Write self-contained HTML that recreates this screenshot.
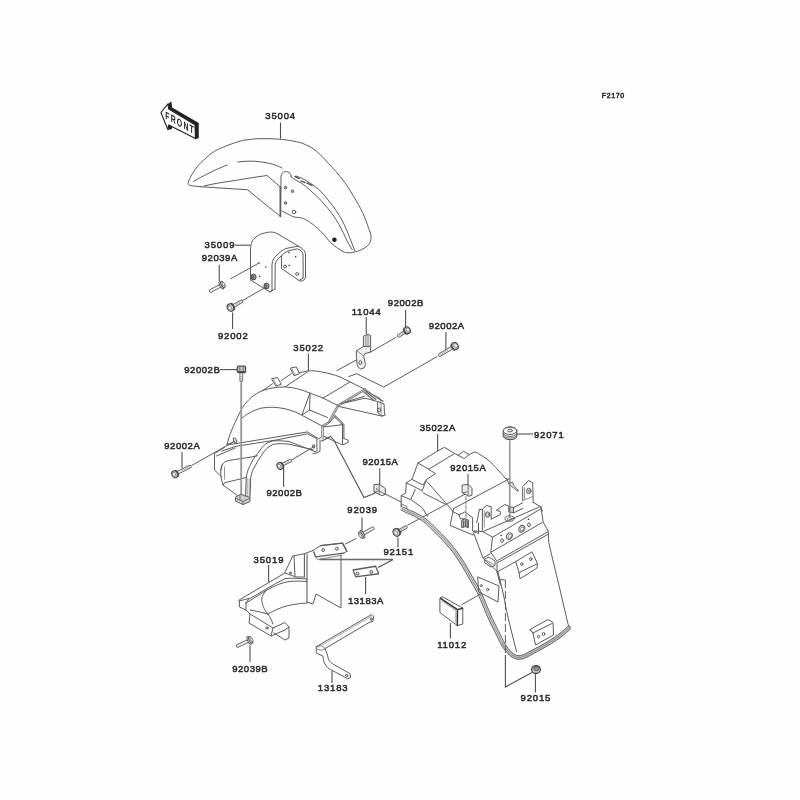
<!DOCTYPE html>
<html><head><meta charset="utf-8"><title>F2170</title>
<style>
html,body{margin:0;padding:0;background:#fefefe;}
body{width:800px;height:800px;overflow:hidden;font-family:"Liberation Sans",sans-serif;}
svg{display:block;filter:blur(0.5px);}
.ln{fill:none;stroke:#5c5c5c;stroke-width:1;stroke-linecap:round;stroke-linejoin:round;}
.lw{fill:#fefefe;stroke:#5c5c5c;stroke-width:1;stroke-linecap:round;stroke-linejoin:round;}
.lt{fill:none;stroke:#777;stroke-width:0.8;stroke-linecap:round;stroke-linejoin:round;}
.ld{fill:none;stroke:#505050;stroke-width:1.1;stroke-linecap:butt;}
.lb{font-family:"Liberation Sans",sans-serif;fill:#2a2a2a;stroke:#2a2a2a;stroke-width:0.5;}
.bk{fill:#222;stroke:none;}
</style></head><body>
<svg width="800" height="800" viewBox="0 0 800 800">
<rect width="800" height="800" fill="#fefefe"/>
<text x="613.25" y="97.82" font-size="7" letter-spacing="0.6" text-anchor="middle" class="lb">F2170</text>
<text x="280.62" y="118.72" font-size="9.5" letter-spacing="0.85" text-anchor="middle" class="lb">35004</text>
<text x="219.93" y="248.32" font-size="9.5" letter-spacing="0.85" text-anchor="middle" class="lb">35009</text>
<text x="219.78" y="260.82" font-size="9.5" letter-spacing="0.55" text-anchor="middle" class="lb">92039A</text>
<text x="233.32" y="338.82" font-size="9.5" letter-spacing="0.85" text-anchor="middle" class="lb">92002</text>
<text x="366.62" y="314.52" font-size="9.5" letter-spacing="0.85" text-anchor="middle" class="lb">11044</text>
<text x="405.87" y="306.22" font-size="9.5" letter-spacing="0.55" text-anchor="middle" class="lb">92002B</text>
<text x="446.67" y="328.62" font-size="9.5" letter-spacing="0.55" text-anchor="middle" class="lb">92002A</text>
<text x="308.62" y="351.02" font-size="9.5" letter-spacing="0.85" text-anchor="middle" class="lb">35022</text>
<text x="202.28" y="373.12" font-size="9.5" letter-spacing="0.55" text-anchor="middle" class="lb">92002B</text>
<text x="182.28" y="448.72" font-size="9.5" letter-spacing="0.55" text-anchor="middle" class="lb">92002A</text>
<text x="284.47" y="496.12" font-size="9.5" letter-spacing="0.55" text-anchor="middle" class="lb">92002B</text>
<text x="380.47" y="464.62" font-size="9.5" letter-spacing="0.55" text-anchor="middle" class="lb">92015A</text>
<text x="437.77" y="430.72" font-size="9.5" letter-spacing="0.55" text-anchor="middle" class="lb">35022A</text>
<text x="549.23" y="437.52" font-size="9.5" letter-spacing="0.85" text-anchor="middle" class="lb">92071</text>
<text x="468.27" y="470.72" font-size="9.5" letter-spacing="0.55" text-anchor="middle" class="lb">92015A</text>
<text x="362.62" y="513.12" font-size="9.5" letter-spacing="0.85" text-anchor="middle" class="lb">92039</text>
<text x="398.82" y="555.12" font-size="9.5" letter-spacing="0.85" text-anchor="middle" class="lb">92151</text>
<text x="268.93" y="562.72" font-size="9.5" letter-spacing="0.85" text-anchor="middle" class="lb">35019</text>
<text x="365.97" y="603.52" font-size="9.5" letter-spacing="0.55" text-anchor="middle" class="lb">13183A</text>
<text x="250.17" y="671.52" font-size="9.5" letter-spacing="0.55" text-anchor="middle" class="lb">92039B</text>
<text x="333.12" y="691.12" font-size="9.5" letter-spacing="0.85" text-anchor="middle" class="lb">13183</text>
<text x="452.12" y="648.12" font-size="9.5" letter-spacing="0.85" text-anchor="middle" class="lb">11012</text>
<text x="535.92" y="700.92" font-size="9.5" letter-spacing="0.85" text-anchor="middle" class="lb">92015</text>
<path class="bk" d="M168,103.9 L171.4,101.25 L172.1,107.6 L198.75,123 L198.75,138 L195,139.5 L195,124.9 L168.75,109.1 Z" />
<path class="bk" d="M168,124.9 L172.5,126 L171.75,129 L168.4,130.1 Z" />
<path class="lw" d="M160.9,112.5 L168,103.9 L168.75,109.1 L195,124.9 L195.4,138.6 L168.75,124.9 L168,129.75 Z" style="stroke:#222;stroke-width:1.1"/>
<text transform="translate(165.2,118.7) skewY(28) scale(0.64,1)" font-size="10.8" font-weight="bold" letter-spacing="1.9" fill="#1c1c1c" font-family="Liberation Sans, sans-serif">FRONT</text>
<path class="ld" d="M280.5,122.5 L280.5,138.75"/>
<path class="ln" d="M201,186.75 L192,185.8 C188.5,185.4 187.6,183.8 188.25,182.25 C190,177 196,166.5 203.75,160 C212,152 218,149 222.5,147.5 C232,143.5 238,141.5 245,140 C255,138.5 262,138.5 270,138.75 C282,139 291,140.5 300,142.5 C305,144 308,146 311.9,147.8 C318,152 323,157 328.75,163.75 C334,169 338,174 341.9,178.75 C346,184 350,190 353.1,195.6 C357,202 360,207 362.5,212.5 C365,218 367,223 369,229.4 C370.5,233 371.3,235 371,238 C371,242 369,245.5 364.4,248.1 C361,250 358,251.3 355,251.9 C352,252.7 349.5,253 347.5,252.8 C345,252.5 343.5,252 341.9,250.9" />
<path class="ln" d="M341.9,250.9 C338,248.5 335,246.5 332.5,244.4 C329.5,241.5 327,238.5 325,235.9 C321.5,232 318.5,229 315.6,226.6 C312,223.5 309,221.5 306.25,220 C304,218.8 302.5,218 300.6,217.75 C298.5,217.3 296.8,217.3 295,217.2 C293,216.8 291.8,216.2 290.3,215.3 L281.9,211" />
<path class="ln" d="M280.6,216.6 L281,177 C281,173.5 283,171.7 285.6,171.6 C288.5,171.6 290.2,172.8 291,175 L291.25,176.9" />
<path class="ln" d="M291.25,176.9 C294,179 296,180.2 298.75,181.6 C304,184.5 308,188 311.9,191.9 C317,196 321,200.3 325,205 C329.5,210 333,215 336.25,220 C340,226 343,232 345.6,237.8 C348,243 350,246.5 352.2,249.5" />
<path class="ln" d="M296,176 C300,177.5 303,179 306.25,180.6 C311,183.5 315.5,186.7 319.4,190 C323.5,194 327,198.5 330.6,203 C335,208.5 338.5,214 341.9,220 C345,226 347.5,231.5 349.4,236.9 C351.3,242 353,246 354.8,250.5" />
<circle cx="285.5" cy="187.6" r="1.3" fill="#aaa" stroke="#555" stroke-width="0.9"/>
<circle cx="292.5" cy="191.2" r="1.3" fill="#aaa" stroke="#555" stroke-width="0.9"/>
<circle cx="285.5" cy="203" r="1.3" fill="#aaa" stroke="#555" stroke-width="0.9"/>
<circle class="ln" cx="294" cy="212" r="1.8"/>
<circle class="bk" cx="334.4" cy="239.7" r="2.3"/>
<path class="ln" d="M295,176.5 L299,178.5 M301,181 L305,182.5 M307,183 L312,185.5" style="stroke-width:1.3;stroke:#333"/>
<path class="ln" d="M204,186 C214,183.6 222,182.4 230,181.25 C243,179.2 255,177.2 267,175.5 L280.3,187" />
<path class="ln" d="M201,186.75 L247.5,189.75 L280.3,216.4" />
<path class="ln" d="M280.3,187 L280.3,216.4" style="stroke-width:1.6"/>
<path class="ln" d="M193.5,181.5 C203,176 214,170 227.25,165" />
<path class="ln" d="M237.75,162 C244,161.2 249,161 255,161.25 C260,161.6 265,162.4 270,163.5 C274.5,164.6 278,166 282,168" />
<path class="ld" d="M234.7,245.2 L250.5,245.2"/>
<path class="ln" d="M250.5,280 L250.5,250 C250.7,243 252.5,240 255,238 C257.5,235.5 260,234.3 263,233.5 C266,232.5 268.5,232 271,232 C273.5,232.2 275,232.6 277,233.5 L299,246.5" />
<path class="ln" d="M250.5,280 L270,292 L272,290.5 M270,292 L275,289" />
<path class="ln" d="M272,290.5 L272,264 C272.5,260 274.5,257 277,255 C279.5,252.5 282.5,250 286,248.5 L296,246.5 C298.5,246.2 300.5,247 302,248.5 C304,250 305.3,252 305.5,254 L305.5,277 C305.3,279.5 303,281.5 300,281 L299,280.5" />
<path class="ln" d="M275,289 L275.2,264.5 C275.8,261.5 277.5,259 280,257 C282.5,254.5 285,252.5 288,251 L296,249 C298,248.8 299.8,249.5 301,251 C302.3,252.2 303,253.5 303,255 L303.2,277 L303,278" />
<path class="ln" d="M281.5,256 L281.5,268.5 L299,280.5 L303,278" />
<circle class="ln" cx="285" cy="266.5" r="1.5"/>
<circle class="ln" cx="297.2" cy="274" r="1.5"/>
<circle class="bk" cx="259" cy="263" r="0.75"/>
<circle class="bk" cx="289" cy="252.5" r="0.75"/>
<circle class="bk" cx="295.7" cy="256.8" r="0.75"/>
<circle class="bk" cx="289.2" cy="265.5" r="0.75"/>
<circle class="bk" cx="259.6" cy="276.2" r="0.75"/>
<circle class="bk" cx="265.8" cy="267" r="0.7"/>
<ellipse cx="253.5" cy="277" rx="2.6" ry="2.9" fill="#b0b0b0" stroke="#444" stroke-width="1"/>
<ellipse cx="252.9" cy="277.3" rx="1.4" ry="1.7" fill="#777" stroke="#444" stroke-width="0.5"/>
<ellipse cx="266.5" cy="286" rx="2.6" ry="2.9" fill="#b0b0b0" stroke="#444" stroke-width="1"/>
<ellipse cx="265.9" cy="286.3" rx="1.4" ry="1.7" fill="#777" stroke="#444" stroke-width="0.5"/>
<path class="ln" d="M230.6,278.8 L259,263"/>
<path class="ln" d="M242.8,300.4 L264,288.25"/>
<path class="ld" d="M219.25,264.7 L219.25,281"/>
<path d="M221.16,285.46 L210.74,290.99" stroke="#5e5e5e" stroke-width="3.7" fill="none" stroke-linecap="round"/>
<path d="M221.16,285.46 L210.74,290.99" stroke="#f1f1f1" stroke-width="2.00" fill="none" stroke-linecap="round"/>
<g transform="translate(222.4,284.8) rotate(152.0)"><ellipse cx="1.3" cy="0" rx="1.4" ry="4.20" fill="#e9e9e9" stroke="#4a4a4a" stroke-width="0.9"/><ellipse cx="-0.5" cy="0" rx="1.6" ry="3.64" fill="#dcdcdc" stroke="#4a4a4a" stroke-width="0.9"/><ellipse cx="-1.3" cy="0" rx="1.1" ry="2.24" fill="#f4f4f4" stroke="#666" stroke-width="0.7"/></g>
<path class="ld" d="M232.6,312.6 L232.6,328.9"/>
<path d="M232.11,306.69 L241.27,301.54" stroke="#5e5e5e" stroke-width="3.7" fill="none" stroke-linecap="round"/>
<path d="M232.11,306.69 L241.27,301.54" stroke="#f1f1f1" stroke-width="2.00" fill="none" stroke-linecap="round"/>
<path d="M235.85,304.58 L241.27,301.54" stroke="#8a8a8a" stroke-width="2.50" fill="none" stroke-dasharray="0.6 1.3"/>
<g transform="translate(230.5,307.6) rotate(-29.4)"><ellipse cx="2.04" cy="0" rx="1.85" ry="3.52" fill="#8a8a8a" stroke="#444" stroke-width="0.9"/><ellipse cx="0" cy="0" rx="3.15" ry="3.89" fill="#c6c6c6" stroke="#444" stroke-width="1.1"/><ellipse cx="-0.81" cy="0" rx="1.67" ry="2.22" fill="#f0f0f0" stroke="#6a6a6a" stroke-width="0.6"/></g>
<path class="ld" d="M308.4,353.5 L308.4,370.8"/>
<path class="ln" d="M226.9,445 C228,440 229.5,436 231.25,431.25 C233,427 234.5,423.5 236.25,420 C238,416 240,412 242.5,407.5 C245,403.5 248,400.5 251.25,397.5 C255,394.5 258.5,392.3 262.5,390.6 C266,389.3 270,388.4 273.75,387.75 C277.5,387.2 281,386.9 285,386.9 C289,387.1 293.5,387.7 297.5,388.75 C302,390 306,391.5 310,393.1 L323.1,398.1 L338.1,405.6" />
<path class="ln" d="M262.5,390.6 L272.5,383.75 M281.25,380.5 L291.25,373.75 M299.4,372.7 L308.4,370.8" />
<path class="lw" d="M271.9,378.75 L277.5,377.5 L281.25,384.4 L276.25,386 Z" />
<path class="lw" d="M290.6,368.1 L296.25,366.9 L299.4,373.75 L294.4,375.6 Z" />
<path class="lt" d="M273.2,379.5 L276.8,385.3 M291.9,369 L295,374.8" />
<path class="ln" d="M285,386.9 L307.5,371.9" />
<path class="ln" d="M308.4,370.8 C313,370.6 317,371 321.25,371.9 C328,373 334,374.7 340,376.9 L350,381.9 L365,389.4" />
<path class="ln" d="M350,381.9 L323.1,398.1" />
<path class="ln" d="M241.25,418.75 C244,416.3 247,414.3 250,412.5 C254,410.5 257.5,409.2 261.25,408.1 C265,407.5 268.5,407.2 272.5,407.25 C277,407.4 281,407.9 285,408.75 C288.5,409.6 292,410.7 295,411.9 L301.9,415" />
<path class="ln" d="M310,393.1 L301.9,415 L309.6,410 M310,393.5 L309.6,410 L327.5,417.5 M301.9,415.3 L322.5,426.25" />
<path d="M338.1,405.6 L328.75,422.5 L322.5,426.25 L322.5,437.5" fill="none" stroke="#666" stroke-width="2.3" stroke-linecap="round" stroke-linejoin="round"/>
<path d="M338.1,405.6 L328.75,422.5 L322.5,426.25 L322.5,437.5" fill="none" stroke="#f0f0f0" stroke-width="0.80" stroke-linecap="round" stroke-linejoin="round"/>
<path d="M335,416.25 L342.5,423.75" fill="none" stroke="#666" stroke-width="2.3" stroke-linecap="round" stroke-linejoin="round"/>
<path d="M335,416.25 L342.5,423.75" fill="none" stroke="#f0f0f0" stroke-width="0.80" stroke-linecap="round" stroke-linejoin="round"/>
<path class="ln" d="M342.5,423.75 L342.5,445 L348.1,442.5 L348.1,440 L343.8,438.5 M343.9,424.5 L343.9,438.5" />
<path class="ln" d="M323,427 L341.8,424.8 M323.75,436.25 L341.25,444.4 M335,416.5 L329,422.8" />
<path d="M338.1,405.6 L365,389.4" fill="none" stroke="#666" stroke-width="2.3" stroke-linecap="round" stroke-linejoin="round"/>
<path d="M338.1,405.6 L365,389.4" fill="none" stroke="#f0f0f0" stroke-width="0.80" stroke-linecap="round" stroke-linejoin="round"/>
<path class="ln" d="M365,389.4 L377.5,398.1 L383.1,401.25 M366,391.5 L376,399.5 M364,392 L374,400.6" style="stroke-width:1.1"/>
<path class="ln" d="M378,401.5 L384,404 L384.5,414 L385.5,415 L382,415.8 L378,413 Z" />
<path class="lt" d="M374,395 L380,398 L381,401.5 M381,403 L381,413.5" style="stroke:#666"/>
<ellipse class="ln" cx="379.2" cy="410" rx="1.4" ry="2.0" transform="rotate(0 379.2 410)"/>
<path class="ln" d="M338.6,406.4 L382.5,416.25 M341,403.75 L365,398.1 L376.5,401.25 M345,402.2 L364.5,396.2" />
<path class="ld" d="M321.25,441.25 L330.6,436.5 L333.75,440 L364,497.5 L375.25,493" />
<path class="ln" d="M226.9,445 L238.75,443.1 L307.5,431.9 L318.75,438.75 L320.6,437.5" />
<path class="ln" d="M222,451 L236.25,446.25 L276.25,440 L307.5,433.75 L316.9,438.75 L316.9,451.25" />
<path class="ln" d="M320,440 L320,451.25 L316.5,453 L313,453.5" />
<ellipse class="ln" cx="313.6" cy="446.3" rx="1.2" ry="1.6" transform="rotate(20 313.6 446.3)"/>
<path class="ln" d="M245.5,497 L246.25,477.5 C247,472 248.3,469 250,465.5 C252,461 254.5,457 257.5,453.5 C260,450 262.5,447 265,444.5 C268,442 271.5,441 275.5,440.75 C280,440.6 284.5,441 289,441.5 L316,452" />
<path class="ln" d="M250,497 L250.75,477.5 C251.5,473 252.8,470 254.5,467 C256.5,463 258.8,459.3 261.25,455.75 C263.3,452.5 265.5,449.6 268,447.5 C270.8,445.2 273.8,444 277,443.75 C281,443.5 285,443.8 289,444.2 L313,449.75" />
<path class="ln" d="M224.5,447.5 L214.5,453.5 L214.5,470 L221.5,476.75" />
<path class="ln" d="M235,448 L216.5,456" />
<path class="ln" d="M222.25,464.75 C221,468 220.6,471 220.75,474.5 C221,478.5 222,482 223,485 L237.25,495.5" />
<path class="ln" d="M221,470 C221.2,466.5 221.8,464.5 223.5,463 C225,461.5 227,460.8 229,460.4 L250,457.25 L257.5,455.75" />
<path class="ln" d="M223,485 L224.5,482.8 L246.25,477.5" />
<path class="lt" d="M224.5,467 L224.5,479" />
<ellipse class="ln" cx="235" cy="440.5" rx="1.4" ry="2.5" transform="rotate(-25 235 440.5)"/>
<path class="lt" d="M227.2,444.2 L233,442.2" style="stroke:#666"/>
<path class="lt" d="M241.2,383 L241.2,496" style="stroke:#9a9a9a;stroke-width:1.9"/>
<path class="ln" d="M235.75,497 L240.5,494.3 L250,497.5 L250,501.5 L243,504.6 L236,501.3 Z" style="fill:#cfcfcf"/>
<path class="lt" d="M236.5,498.6 L243,501.4 L249.5,498.6 M240,495.5 L240,500 M243,501.4 L243,504.4" style="stroke:#555"/>
<path class="lt" d="M247.2,479 L247.2,496 M249.2,479 L249.2,496" stroke-dasharray="1 1"/>
<path class="ld" d="M220,369.6 L237,369.6"/>
<path d="M241.30,371.75 L241.30,380.20" stroke="#5e5e5e" stroke-width="3.7" fill="none" stroke-linecap="round"/>
<path d="M241.30,371.75 L241.30,380.20" stroke="#f1f1f1" stroke-width="2.00" fill="none" stroke-linecap="round"/>
<path d="M241.30,376.00 L241.30,380.20" stroke="#8a8a8a" stroke-width="2.50" fill="none" stroke-dasharray="0.6 1.3"/>
<g transform="translate(241.3,371.5) rotate(90.0)"><ellipse cx="0.28" cy="0" rx="0.25" ry="0.47" fill="#8a8a8a" stroke="#444" stroke-width="0.9"/><ellipse cx="0" cy="0" rx="0.42" ry="0.53" fill="#c6c6c6" stroke="#444" stroke-width="1.1"/><ellipse cx="-0.11" cy="0" rx="0.23" ry="0.30" fill="#f0f0f0" stroke="#6a6a6a" stroke-width="0.6"/></g>
<path class="ln" d="M237.2,367.4 Q237.2,366 238.6,366 L244,366 Q245.6,366 245.6,367.4 L245.6,371.8 L237.2,371.8 Z" style="fill:#c4c4c4;stroke:#3c3c3c;stroke-width:1.1"/>
<path class="lt" d="M239.8,366.5 L239.8,371.5 M243.2,366.5 L243.2,371.5" style="stroke:#555"/>
<path class="ln" d="M238,372.6 L245,372.6" style="stroke:#444;stroke-width:1.4"/>
<path class="ld" d="M182,452 L182,468"/>
<path d="M176.32,473.43 L189.84,466.58" stroke="#5e5e5e" stroke-width="3.7" fill="none" stroke-linecap="round"/>
<path d="M176.32,473.43 L189.84,466.58" stroke="#f1f1f1" stroke-width="2.00" fill="none" stroke-linecap="round"/>
<path d="M182.09,470.51 L189.84,466.58" stroke="#8a8a8a" stroke-width="2.50" fill="none" stroke-dasharray="0.6 1.3"/>
<g transform="translate(174.8,474.2) rotate(-26.8)"><ellipse cx="1.87" cy="0" rx="1.70" ry="3.23" fill="#8a8a8a" stroke="#444" stroke-width="0.9"/><ellipse cx="0" cy="0" rx="2.89" ry="3.57" fill="#c6c6c6" stroke="#444" stroke-width="1.1"/><ellipse cx="-0.75" cy="0" rx="1.53" ry="2.04" fill="#f0f0f0" stroke="#6a6a6a" stroke-width="0.6"/></g>
<path class="ln" d="M192,465.3 L235,441"/>
<path class="ld" d="M283.6,468 L283.6,487"/>
<path d="M281.51,465.21 L290.35,460.60" stroke="#5e5e5e" stroke-width="3.7" fill="none" stroke-linecap="round"/>
<path d="M281.51,465.21 L290.35,460.60" stroke="#f1f1f1" stroke-width="2.00" fill="none" stroke-linecap="round"/>
<path d="M285.18,463.30 L290.35,460.60" stroke="#8a8a8a" stroke-width="2.50" fill="none" stroke-dasharray="0.6 1.3"/>
<g transform="translate(280,466) rotate(-27.6)"><ellipse cx="1.87" cy="0" rx="1.70" ry="3.23" fill="#8a8a8a" stroke="#444" stroke-width="0.9"/><ellipse cx="0" cy="0" rx="2.89" ry="3.57" fill="#c6c6c6" stroke="#444" stroke-width="1.1"/><ellipse cx="-0.75" cy="0" rx="1.53" ry="2.04" fill="#f0f0f0" stroke="#6a6a6a" stroke-width="0.6"/></g>
<path class="ln" d="M292.5,459.5 L314,446.6"/>
<path class="ld" d="M366.25,317.1 L366.25,334.6"/>
<path class="ld" d="M405.6,310.1 L405.6,327.6"/>
<path class="ld" d="M445.9,332 L445.9,350.4"/>
<path d="M405.87,331.22 L398.84,335.70" stroke="#5e5e5e" stroke-width="3.7" fill="none" stroke-linecap="round"/>
<path d="M405.87,331.22 L398.84,335.70" stroke="#f1f1f1" stroke-width="2.00" fill="none" stroke-linecap="round"/>
<path d="M403.00,333.05 L398.84,335.70" stroke="#8a8a8a" stroke-width="2.50" fill="none" stroke-dasharray="0.6 1.3"/>
<g transform="translate(407.3,330.3) rotate(147.4)"><ellipse cx="1.87" cy="0" rx="1.70" ry="3.23" fill="#8a8a8a" stroke="#444" stroke-width="0.9"/><ellipse cx="0" cy="0" rx="2.89" ry="3.57" fill="#c6c6c6" stroke="#444" stroke-width="1.1"/><ellipse cx="-0.75" cy="0" rx="1.53" ry="2.04" fill="#f0f0f0" stroke="#6a6a6a" stroke-width="0.6"/></g>
<path class="ln" d="M396,337.4 L369.5,352.6"/>
<path d="M453.45,346.92 L440.01,354.94" stroke="#5e5e5e" stroke-width="3.7" fill="none" stroke-linecap="round"/>
<path d="M453.45,346.92 L440.01,354.94" stroke="#f1f1f1" stroke-width="2.00" fill="none" stroke-linecap="round"/>
<path d="M447.75,350.32 L440.01,354.94" stroke="#8a8a8a" stroke-width="2.50" fill="none" stroke-dasharray="0.6 1.3"/>
<g transform="translate(455,346) rotate(149.2)"><ellipse cx="1.98" cy="0" rx="1.80" ry="3.42" fill="#8a8a8a" stroke="#444" stroke-width="0.9"/><ellipse cx="0" cy="0" rx="3.06" ry="3.78" fill="#c6c6c6" stroke="#444" stroke-width="1.1"/><ellipse cx="-0.79" cy="0" rx="1.62" ry="2.16" fill="#f0f0f0" stroke="#6a6a6a" stroke-width="0.6"/></g>
<path class="ln" d="M437.1,356.6 L383.75,387.1 L356.6,373.7 L348.75,376.6" />
<path class="ln" d="M337,370.6 L356,360.2"/>
<path class="ln" d="M363.8,336 L368,334.4 L370.6,335.5 L370.6,346 L366.5,347.5 L363.8,346.2 Z" style="fill:#e4e4e4"/>
<path class="lt" d="M365.8,335.4 L365.8,346.8 M368,334.6 L368,346.6" />
<path class="ln" d="M356.8,350.5 L363.4,346.4 L370.6,346.4 L370.6,352 L365,353.6 L363.6,356 L365.5,364.5 L364,368 L360.5,369 L357.5,366.5 L356.4,358 Z" style="fill:#efefef"/>
<ellipse class="ln" cx="360.3" cy="362.6" rx="1.4" ry="2" transform="rotate(0 360.3 362.6)"/>
<path class="lt" d="M356.8,350.5 L363.6,356" />
<path class="ld" d="M437.6,434 L437.6,451"/>
<path class="ln" d="M418,463 L437.2,451.25 L444.5,447.3 L454.6,453.5 L458,455.2 L463.6,451.25 L469.25,454.6 L474.9,451.8 C480,454.3 484,457 488,460 C492,463.5 495,466.5 498,470 C501,473 503.5,476 506,479 L510,479" />
<path class="ln" d="M458,455.2 L464.2,458.6 L469.25,454.6" />
<path class="ln" d="M418,463 L428.75,469.25 L454.6,453.5" />
<path class="ln" d="M418,463 L411.9,479.4 L406.25,482.75 L405.7,492.9 L401.2,495.7 L401.2,507.5 L407.4,512" />
<path class="ln" d="M428.75,469.25 L435.5,473.75 L426.5,479.4 L422,491.2" />
<path class="ln" d="M411.9,479.4 L423.1,485 L426.5,479.4 M406.25,482.75 L421.6,490.4" />
<path class="ln" d="M415.25,489.5 L410.75,499.6" />
<path class="ln" d="M401.2,495.7 L410.75,499.6 L422,507.5 L427.6,516.5" />
<path class="lt" d="M401.75,504.1 L406.8,506.4 L406.8,510.3 L401.75,508 Z" style="stroke:#555"/>
<path class="ln" d="M427,481.6 L446.75,504.1 L453.5,512" />
<path class="ln" d="M423.1,492.9 L446,504.5" />
<path class="ln" d="M408,525 L464.75,494.3"/>
<path class="ln" d="M453.5,508.6 L508,479.5" />
<path class="ln" d="M385.4,494 L401,502" />
<path class="lt" d="M402.00,508.50 C403.00,509.00 405.83,510.50 408.00,511.50 C410.17,512.50 412.17,513.00 415.00,514.50 C417.83,516.00 421.67,517.92 425.00,520.50 C428.33,523.08 431.67,526.75 435.00,530.00 C438.33,533.25 441.67,536.33 445.00,540.00 C448.33,543.67 452.00,548.00 455.00,552.00 C458.00,556.00 460.33,559.67 463.00,564.00 C465.67,568.33 468.33,573.33 471.00,578.00 C473.67,582.67 476.67,587.33 479.00,592.00 C481.33,596.67 483.00,601.33 485.00,606.00 C487.00,610.67 489.00,615.67 491.00,620.00 C493.00,624.33 495.00,628.00 497.00,632.00 C499.00,636.00 501.17,640.83 503.00,644.00 C504.83,647.17 506.33,649.07 508.00,651.00 C509.67,652.93 511.17,654.52 513.00,655.60 C514.83,656.68 517.00,657.43 519.00,657.50 C521.00,657.57 522.75,656.92 525.00,656.00 C527.25,655.08 529.83,653.42 532.50,652.00 C535.17,650.58 538.00,649.17 541.00,647.50 C544.00,645.83 547.33,644.00 550.50,642.00 C553.67,640.00 556.82,637.93 560.00,635.50 C563.18,633.07 568.00,628.75 569.60,627.40" style="stroke:#dcdcdc;stroke-width:3.4"/>
<path class="lt" d="M503.00,644.00 C503.83,645.17 506.33,649.07 508.00,651.00 C509.67,652.93 511.17,654.52 513.00,655.60 C514.83,656.68 517.00,657.43 519.00,657.50 C521.00,657.57 522.75,656.92 525.00,656.00 C527.25,655.08 529.83,653.42 532.50,652.00 C535.17,650.58 538.00,649.17 541.00,647.50 C544.00,645.83 547.33,644.00 550.50,642.00 C553.67,640.00 556.82,637.93 560.00,635.50 C563.18,633.07 568.00,628.75 569.60,627.40" style="stroke:#c4c4c4;stroke-width:3.2"/>
<path class="ln" d="M402.80,506.89 C403.80,507.39 406.58,508.86 408.75,509.87 C410.93,510.87 412.95,511.37 415.84,512.91 C418.73,514.44 422.70,516.44 426.10,519.08 C429.51,521.71 432.89,525.43 436.26,528.71 C439.63,532.00 442.97,535.09 446.33,538.79 C449.70,542.49 453.41,546.88 456.44,550.92 C459.47,554.96 461.85,558.69 464.53,563.06 C467.22,567.42 469.88,572.42 472.56,577.11 C475.24,581.80 478.26,586.50 480.61,591.20 C482.96,595.89 484.65,600.62 486.65,605.29 C488.66,609.97 490.64,614.93 492.63,619.25 C494.63,623.56 496.62,627.22 498.61,631.20 C500.60,635.17 502.77,639.99 504.56,643.10 C506.35,646.20 507.80,648.00 509.36,649.82 C510.92,651.65 512.30,653.07 513.92,654.05 C515.53,655.03 517.33,655.65 519.06,655.70 C520.79,655.75 522.22,655.21 524.32,654.33 C526.42,653.45 529.02,651.81 531.66,650.41 C534.29,649.01 537.15,647.58 540.13,645.93 C543.11,644.27 546.41,642.45 549.54,640.48 C552.67,638.50 555.76,636.48 558.91,634.07 C562.06,631.66 566.85,627.37 568.44,626.02" />
<path class="lt" d="M402.00,508.50 C403.00,509.00 405.83,510.50 408.00,511.50 C410.17,512.50 412.17,513.00 415.00,514.50 C417.83,516.00 421.67,517.92 425.00,520.50 C428.33,523.08 431.67,526.75 435.00,530.00 C438.33,533.25 441.67,536.33 445.00,540.00 C448.33,543.67 452.00,548.00 455.00,552.00 C458.00,556.00 460.33,559.67 463.00,564.00 C465.67,568.33 468.33,573.33 471.00,578.00 C473.67,582.67 476.67,587.33 479.00,592.00 C481.33,596.67 483.00,601.33 485.00,606.00 C487.00,610.67 489.00,615.67 491.00,620.00 C493.00,624.33 495.00,628.00 497.00,632.00 C499.00,636.00 501.17,640.83 503.00,644.00 C504.83,647.17 506.33,649.07 508.00,651.00 C509.67,652.93 511.17,654.52 513.00,655.60 C514.83,656.68 517.00,657.43 519.00,657.50 C521.00,657.57 522.75,656.92 525.00,656.00 C527.25,655.08 529.83,653.42 532.50,652.00 C535.17,650.58 538.00,649.17 541.00,647.50 C544.00,645.83 547.33,644.00 550.50,642.00 C553.67,640.00 556.82,637.93 560.00,635.50 C563.18,633.07 568.00,628.75 569.60,627.40" style="stroke:#777"/>
<path class="ln" d="M401.20,510.11 C402.20,510.61 405.09,512.14 407.25,513.13 C409.41,514.13 411.38,514.63 414.16,516.09 C416.93,517.56 420.63,519.39 423.90,521.92 C427.16,524.46 430.45,528.07 433.74,531.29 C437.04,534.50 440.37,537.58 443.67,541.21 C446.97,544.84 450.59,549.12 453.56,553.08 C456.53,557.04 458.82,560.64 461.47,564.94 C464.11,569.25 466.78,574.25 469.44,578.89 C472.09,583.54 475.07,588.17 477.39,592.80 C479.71,597.44 481.35,602.05 483.35,606.71 C485.34,611.37 487.36,616.40 489.37,620.75 C491.37,625.10 493.38,628.78 495.39,632.80 C497.40,636.83 499.57,641.67 501.44,644.90 C503.32,648.13 504.86,650.13 506.64,652.18 C508.41,654.22 510.03,655.96 512.08,657.15 C514.13,658.34 516.67,659.21 518.94,659.30 C521.21,659.39 523.28,658.62 525.68,657.67 C528.08,656.72 530.65,655.02 533.34,653.59 C536.04,652.16 538.85,650.75 541.87,649.07 C544.89,647.40 548.26,645.55 551.46,643.52 C554.66,641.50 557.88,639.39 561.09,636.93 C564.31,634.47 569.15,630.13 570.76,628.78" />
<path class="ln" d="M474,534 C477,542 480,550 483,558 L490,554 M483,558 L498,572 C501,584 504,596 506,608 C509,622 513,638 516.75,652" />
<path class="ln" d="M453.5,508.6 L450.1,525.5 L473,535 L474.5,531" />
<path class="ln" d="M453.5,512 L459.1,514.8 L460.25,518.75 L464.5,518.75 M459.1,514.8 L464.75,512 L472.6,517.6 L472.6,531 L478.5,533.5 L478.5,523" />
<path class="ld" d="M468,474 L468,484.4"/>
<path class="ln" d="M462.5,485 L468.1,484.4 L472,488.4 L472,495.1 L468.5,496.4 L467,495.1 L462.5,492.9 Z" style="fill:#ececec"/>
<path class="lt" d="M468.1,484.6 L468.1,495.5 M462.5,492.9 L467,491.8" style="stroke:#555"/>
<path class="lt" d="M465.9,496.4 L465.9,518.75" style="stroke:#999;stroke-width:1.3" stroke-dasharray="3 1.5"/>
<path class="ln" d="M462,520 L465.5,518.75 L468.4,520 L468.4,527.75 L465.5,526.6 L462,527.6 Z" style="fill:#bbb"/>
<path class="lt" d="M463.6,521 L463.6,526.8 M465.6,520.4 L465.6,526.2 M467.2,520.8 L467.2,527" style="stroke:#444"/>
<path class="lw" d="M482.4,530.4 L482.4,509.4 L486.4,505.4 L491.2,506.7 L491.2,519" />
<path class="ln" d="M479.4,509.4 L482.4,509.4 M479.4,509.4 L476.75,522.5" />
<path class="lt" d="M484.3,510.5 L484.3,527" />
<ellipse class="ln" cx="487.7" cy="514.6" rx="2.2" ry="2.8" transform="rotate(0 487.7 514.6)"/>
<ellipse class="lt" cx="487.7" cy="514.6" rx="1.1" ry="1.6" transform="rotate(0 487.7 514.6)"/>
<path class="lw" d="M522.7,500.6 L522.7,486.6 L528.4,480.5 L532.7,482.7 L533.2,502.4" />
<path class="lt" d="M524.6,488 L524.6,499.5 M522.7,500.6 L533,496.4" />
<ellipse class="ln" cx="528.8" cy="491" rx="2.2" ry="2.8" transform="rotate(0 528.8 491)"/>
<path class="lt" d="M527.5,489.3 L530.1,492.7 M530.1,489.3 L527.5,492.7" style="stroke:#666"/>
<path class="ln" d="M491.2,519 L500.4,514.6 L500.4,511.6 L496.4,510.2 L504.7,504.6 L508.7,505.9 L508.7,512" />
<path class="ln" d="M510,506.7 L513.5,507.6 L513.5,512.9 L510,512 Z" style="fill:#d6d6d6"/>
<path class="ln" d="M513.5,507.6 L522.7,502.8 M513.5,512.9 L522.7,508.5 M533.2,502.4 L540.6,506.7 L542.4,511" />
<path class="ln" d="M508.7,483.1 L512.6,482.2 L513.5,485.3 L518.75,491 L516.6,490.6 L511.4,486.2 Z" style="fill:#e4e4e4;stroke-width:0.9"/>
<path class="ln" d="M506.5,478.75 L508.7,483.1" />
<path class="ld" d="M516,434 L533,434"/>
<path class="ln" d="M503.2,430.8 C503.2,425.6 516.8,425.6 516.8,430.8 L516.8,436 C516.8,441 503.2,441 503.2,436 Z" style="fill:#ececec;stroke:#444"/>
<ellipse class="lw" cx="510" cy="430.8" rx="6.8" ry="3.6" transform="rotate(0 510 430.8)"/>
<ellipse class="ln" cx="510" cy="430.6" rx="2.6" ry="1.3" transform="rotate(0 510 430.6)"/>
<path class="lt" d="M503.2,433.6 C505,437.4 515,437.4 516.8,433.6 M503.2,435.6 C505,439 515,439 516.8,435.6" style="stroke:#555"/>
<path class="lt" d="M509.8,441 L509.8,517" style="stroke:#858585;stroke-width:1.3"/>
<ellipse class="ln" cx="509.6" cy="518.6" rx="4.6" ry="2.7" transform="rotate(0 509.6 518.6)"/>
<ellipse class="lt" cx="509.6" cy="519" rx="2.6" ry="1.3" transform="rotate(0 509.6 519)"/>
<path class="ln" d="M474.5,531 L482.9,531.6 L540.9,506.25 L543.1,522 L548.2,531 L548.75,542.25 C552,557 555.5,571 558.9,585 C562,598 565,611 568,624 L569.6,627.4" />
<path class="ln" d="M482.9,531.6 L492.5,537.2 L541.4,508.5" />
<path class="ln" d="M492.5,537.2 L490.8,552.4 L497,561.4 L497,572 L500.4,585" />
<path class="ln" d="M490.8,552.4 L542,522.6" />
<path class="ln" d="M498,560.25 L547.6,532 M498,562.5 L547.9,534.4" />
<path class="ln" d="M497,572 L516,561.4" />
<ellipse class="ln" cx="509.4" cy="536.1" rx="2.7" ry="3.4" transform="rotate(30 509.4 536.1)"/>
<ellipse class="lt" cx="509.8" cy="536.3" rx="1.5" ry="2.2" transform="rotate(30 509.8 536.3)"/>
<ellipse class="ln" cx="521.75" cy="528.75" rx="2.7" ry="3.4" transform="rotate(30 521.75 528.75)"/>
<ellipse class="lt" cx="522.1" cy="529" rx="1.5" ry="2.2" transform="rotate(30 522.1 529)"/>
<ellipse class="ln" cx="502" cy="540.6" rx="1.5" ry="1.8" transform="rotate(0 502 540.6)"/>
<ellipse class="ln" cx="529" cy="524.8" rx="1.4" ry="1.9" transform="rotate(0 529 524.8)"/>
<circle class="bk" cx="501" cy="535.5" r="0.8"/>
<circle class="bk" cx="528.5" cy="519.2" r="0.8"/>
<path class="ln" d="M485,559 L489,557 L495,561 L495,565.5 L491,567 L485,563 Z" />
<path class="lt" d="M486.5,560.5 L493.5,564.5" />
<path class="lw" d="M516.1,561.4 L531.9,551.8 L537.5,563.6 L537,568 L520,578.8 L519,572.6 Z" />
<path class="ln" d="M519,572.6 L537.5,563.6" />
<ellipse class="ln" cx="521.75" cy="564.2" rx="1.1" ry="1.4" transform="rotate(0 521.75 564.2)"/>
<ellipse class="ln" cx="530.75" cy="559.1" rx="1.1" ry="1.5" transform="rotate(0 530.75 559.1)"/>
<path class="ln" d="M478,577 L499,586 L498,602 L479,592 Z" />
<circle class="ln" cx="481.3" cy="585.6" r="1.0"/>
<circle class="ln" cx="487.6" cy="589.6" r="1.2"/>
<path class="ln" d="M462,604.5 L480.5,594"/>
<path class="lw" d="M440.25,598 L442.5,596.8 L462.75,608 L462.75,624 L457.3,625.6 L440.25,612.75 Z" />
<path class="ln" d="M440.6,598.3 L457.5,609.6 L457.3,625.4 M457.5,609.6 L462.6,608.2" style="stroke-width:1.5;stroke:#333"/>
<path class="lt" d="M442,601 L456,610.5 L455.8,622.5" />
<path class="ld" d="M450.4,623 L450.4,638.6"/>
<path class="ld" d="M505.4,580 L505.4,653" stroke-dasharray="8 3" style="stroke:#606060;stroke-width:1"/>
<path class="ln" d="M499.5,579.5 L505,580" />
<path class="ld" d="M505.4,655 L505.4,687 L532,672.6" />
<path class="ld" d="M535.4,674 L535.4,692.6"/>
<ellipse cx="536" cy="669.5" rx="4.4" ry="3.9" fill="#c8c8c8" stroke="#333" stroke-width="1.1"/>
<ellipse cx="536.3" cy="668.6" rx="2.6" ry="2" fill="#999" stroke="#333" stroke-width="0.7"/>
<path class="lw" d="M530,629.5 L548,619.5 L553,622.5 L553.5,635 L535.5,645 L533,633 Z" />
<path class="ln" d="M533,633 L552,623.5 M530,629.5 L533,633" />
<ellipse class="ln" cx="538.5" cy="636.5" rx="1.1" ry="1.3" transform="rotate(0 538.5 636.5)"/>
<ellipse class="ln" cx="543.5" cy="634" rx="1.3" ry="1.6" transform="rotate(0 543.5 634)"/>
<path class="ld" d="M398,537.5 L398,547.5"/>
<path d="M398.06,531.58 L405.87,527.23" stroke="#5e5e5e" stroke-width="3.7" fill="none" stroke-linecap="round"/>
<path d="M398.06,531.58 L405.87,527.23" stroke="#f1f1f1" stroke-width="2.00" fill="none" stroke-linecap="round"/>
<path d="M401.17,529.85 L405.87,527.23" stroke="#8a8a8a" stroke-width="2.50" fill="none" stroke-dasharray="0.6 1.3"/>
<g transform="translate(396.4,532.5) rotate(-29.1)"><ellipse cx="2.09" cy="0" rx="1.90" ry="3.61" fill="#8a8a8a" stroke="#444" stroke-width="0.9"/><ellipse cx="0" cy="0" rx="3.23" ry="3.99" fill="#c6c6c6" stroke="#444" stroke-width="1.1"/><ellipse cx="-0.84" cy="0" rx="1.71" ry="2.28" fill="#f0f0f0" stroke="#6a6a6a" stroke-width="0.6"/></g>
<path class="ld" d="M379.75,468.25 L379.75,484.5"/>
<path class="ln" d="M374.3,484.6 L379.2,484.2 L385.3,488.4 L385.3,494.3 L381.8,495.7 L374.3,492 Z" style="fill:#e8e8e8"/>
<path class="lt" d="M379.2,484.4 L379.2,494 M374.3,492 L379.2,490.8 L385.3,494.3" style="stroke:#555"/>
<path class="ln" d="M376,487.6 L377.6,488.4 L377.6,490.6 L376,489.8 Z" style="fill:#888;stroke:none"/>
<path class="ld" d="M268.6,565 L268.6,583"/>
<path class="ln" d="M238.75,600.25 L284.5,573.25 L292.75,556 L304,553.75 L313,550.5 L320.6,545.6 L342.5,543.1 L346.9,551.25 L343.75,553.1" />
<path class="ln" d="M313.75,551.9 L315.6,556.9 L343.75,553.1 M320.6,545.6 L342.5,543.1 L346.9,551.25" style="stroke-width:1.4"/>
<path class="lt" d="M316,557.5 L317.5,559.5 L341,555.5" style="stroke:#666"/>
<circle cx="323.2" cy="550" r="1.5" fill="#ddd" stroke="#555" stroke-width="0.9"/>
<circle cx="336.9" cy="548.75" r="1.5" fill="#ddd" stroke="#555" stroke-width="0.9"/>
<path class="ln" d="M341,555 L341,608 L316,594 L313,604 L307,602" />
<path class="ln" d="M307,554 L307,602 M304.4,554.4 L304.4,577" style="stroke-width:1.1"/>
<path class="ln" d="M294,556 L295,576 M285,573 L296,577 L304.4,577" />
<circle class="ln" cx="290.4" cy="573" r="1.0"/>
<path class="ln" d="M239.4,601 L239.4,607 L246,610 L246,603 M239.4,601 L249,598.4 L246,603" />
<path class="ln" d="M249,599 C262,592 272,585 285,578.6 C292,577.8 300,578.4 307,579" />
<path class="ln" d="M246,603 L267,590 C275,585.5 282,582.4 290,581.4 C296,581 301,581 307,581.6" />
<path class="ln" d="M267,590 C262.5,594 261,598 262,602 C263,607 265,611 268,614" />
<path class="ln" d="M268,614 C274,610.5 280,608 285,606.4 C292,604.4 300,603.4 307,603" />
<path class="ln" d="M246,610 L250,614 L249,623 L271,636 L285,630 L289,627 L289,638 L285,640 L274,633" />
<path class="ln" d="M250,614 L273,628 L285,622.5 L289,627 M273,628 L271,636" />
<path class="ln" d="M250,610 C256,611 262,612.5 268,614 C270,617 272,621 273,624" />
<circle class="ln" cx="267" cy="628" r="1.2"/>
<path class="ld" d="M250,645.5 L250,662"/>
<path d="M249.03,640.59 L237.77,645.85" stroke="#5e5e5e" stroke-width="3.7" fill="none" stroke-linecap="round"/>
<path d="M249.03,640.59 L237.77,645.85" stroke="#f1f1f1" stroke-width="2.00" fill="none" stroke-linecap="round"/>
<g transform="translate(250.3,640) rotate(155.0)"><ellipse cx="1.3" cy="0" rx="1.4" ry="4.20" fill="#e9e9e9" stroke="#4a4a4a" stroke-width="0.9"/><ellipse cx="-0.5" cy="0" rx="1.6" ry="3.64" fill="#dcdcdc" stroke="#4a4a4a" stroke-width="0.9"/><ellipse cx="-1.3" cy="0" rx="1.1" ry="2.24" fill="#f4f4f4" stroke="#666" stroke-width="0.7"/></g>
<path class="ld" d="M362,517.5 L362,531"/>
<path d="M362.61,534.20 L372.78,528.35" stroke="#5e5e5e" stroke-width="3.7" fill="none" stroke-linecap="round"/>
<path d="M362.61,534.20 L372.78,528.35" stroke="#f1f1f1" stroke-width="2.00" fill="none" stroke-linecap="round"/>
<g transform="translate(361.4,534.9) rotate(-29.9)"><ellipse cx="1.3" cy="0" rx="1.4" ry="4.20" fill="#e9e9e9" stroke="#4a4a4a" stroke-width="0.9"/><ellipse cx="-0.5" cy="0" rx="1.6" ry="3.64" fill="#dcdcdc" stroke="#4a4a4a" stroke-width="0.9"/><ellipse cx="-1.3" cy="0" rx="1.1" ry="2.24" fill="#f4f4f4" stroke="#666" stroke-width="0.7"/></g>
<path class="ln" d="M356,538.5 L345.5,544"/>
<path class="ld" d="M319.4,559.5 L393,559.5" style="stroke:#6a6a6a;stroke-width:1.7"/>
<path class="ld" d="M393,559.5 L378.2,567.6" />
<path class="lw" d="M353.1,570 L375.6,566.25 L378.75,573.75 L355.6,576.9 Z" style="stroke-width:1.3"/>
<circle cx="357.5" cy="573.7" r="1.5" fill="#ddd" stroke="#555" stroke-width="0.9"/>
<circle cx="371.25" cy="571.9" r="1.5" fill="#ddd" stroke="#555" stroke-width="0.9"/>
<path class="ld" d="M365.6,577 L365.6,594"/>
<path class="ln" d="M316.25,646.7 L371.4,614.6 L373.6,616.9 L373,621.4 L369.1,622.5 L325.25,648.4" />
<path class="ln" d="M316.25,646.7 L316.25,652.9 L323,656.25 C323.3,658.5 323.4,659.5 323.6,660.75 C324.3,663 325.2,664.8 326.4,666.4 C328,668.2 330,669.3 332,670.3 L347.75,678.75 L350.6,677.6 L350,673.7 L333.1,664.1 C331,662.8 329.6,661.4 328.6,659.6 C328,658 327.8,656.5 327.5,655 L325.8,650.6 L325.25,648.4" />
<path class="lt" d="M316.25,646.7 L320.5,645.3 L325.25,648.4 M316.4,649.2 L321.5,650.2 L325.5,648.8" style="stroke:#666"/>
<path class="lt" d="M318,647.4 L371,616.6" style="stroke:#999"/>
<ellipse class="ln" cx="371.3" cy="619.2" rx="0.9" ry="1.3" transform="rotate(0 371.3 619.2)"/>
<ellipse class="ln" cx="346.8" cy="675.6" rx="1.3" ry="0.9" transform="rotate(25 346.8 675.6)"/>
<path class="ld" d="M332,671 L332,683"/>
</svg>
</body></html>
